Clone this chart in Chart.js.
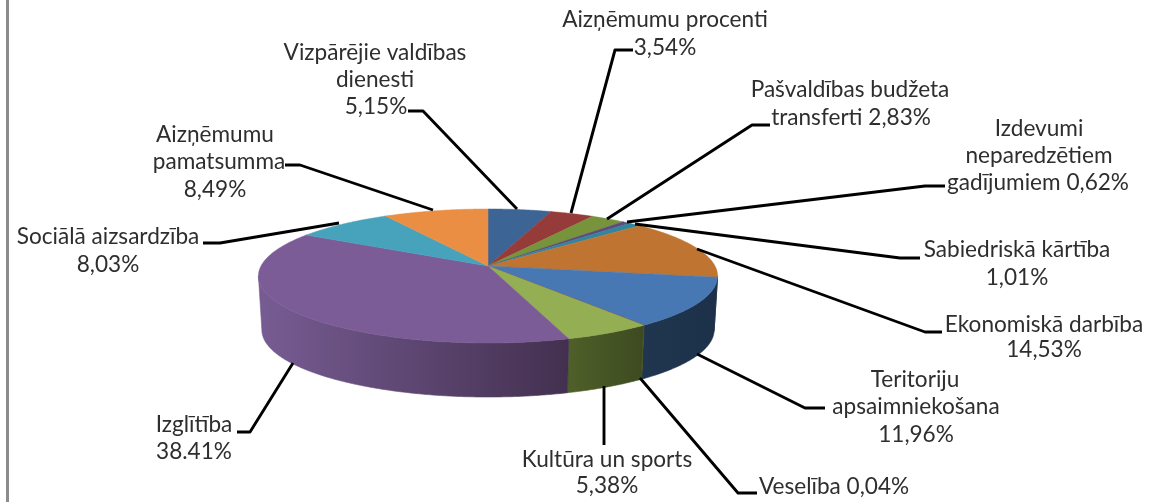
<!DOCTYPE html>
<html>
<head>
<meta charset="utf-8">
<style>
html,body{margin:0;padding:0;background:#fff;overflow:hidden}
canvas{display:block;filter:blur(0.45px)}
</style>
<script src="https://cdn.jsdelivr.net/npm/chart.js@4/dist/chart.umd.min.js"></script>
</head>
<body>
<canvas id="c" width="1154" height="503"></canvas>
<script>
const categories = ["Vizpārējie valdības dienesti","Aizņēmumu procenti","Pašvaldības budžeta transferti","Izdevumi neparedzētiem gadījumiem","Sabiedriskā kārtība","Ekonomiskā darbība","Teritoriju apsaimniekošana","Veselība","Kultūra un sports","Izglītība","Sociālā aizsardzība","Aizņēmumu pamatsumma"];
const shares = [5.15,3.54,2.83,0.62,1.01,14.53,11.96,0.04,5.38,38.41,8.03,8.49];
const topColors = ["#3c6595","#953c3a","#77933c","#60497c","#31859c","#bf7431","#4878b3","#943c3a","#93ae53","#7b5c96","#46a3bb","#ea8e44"];
const sideColors = [["#2c4a6e","#2c4a6e"],["#6e2c2b","#6e2c2b"],["#586d2c","#586d2c"],["#47365c","#47365c"],["#246273","#246273"],["#1f3550","#1f3550"],["#20364f","#1c3049"],["#4a5a26","#4a5a26"],["#4f6029","#3d4a20"],["#775c93","#43304f"],["#347989","#347989"],["#ad6932","#ad6932"]];
const labelLines = [
 [["Vizpārējie valdības",375,53],["dienesti",375,80],["5,15%",376,107]],
 [["Aizņēmumu procenti",665,20],["3,54%",665,48]],
 [["Pašvaldības budžeta",850,90],["transferti 2,83%",851,118]],
 [["Izdevumi",1039,129],["neparedzētiem",1039,156],["gadījumiem 0,62%",1038,183]],
 [["Sabiedriskā kārtība",1017,250],["1,01%",1017,278]],
 [["Ekonomiskā darbība",1044,325],["14,53%",1044,350]],
 [["Teritoriju",915,380],["apsaimniekošana",916,407],["11,96%",916,435]],
 [["Veselība 0,04%",834,487]],
 [["Kultūra un sports",607,460],["5,38%",607,486]],
 [["Izglītība",194,425],["38.41%",194,452]],
 [["Sociālā aizsardzība",108,237],["8,03%",108,265]],
 [["Aizņēmumu",215,135],["pamatsumma",219,162],["8,49%",215,190]]
];
const leaders = [
 [[408,111],[423,111],[517,209]],
 [[633,50],[615,50],[571,213]],
 [[770,125],[752,125],[607,219]],
 [[945,186],[925,186],[627,222]],
 [[920,258],[900,258],[635,224]],
 [[942,332],[925,332],[697,249]],
 [[825,408],[805,408],[697,354]],
 [[757,493],[738,493],[640,378]],
 [[604,445],[604,386]],
 [[237,432],[250,432],[293,363]],
 [[203,243],[220,243],[339,223]],
 [[285,165],[300,165],[433,210]]
];

// perspective projection of the pie's unit circle: apex sits above the ellipse centre
const P = {cx:488, cy:266, ax:227, ay:25.8, k:0.1493, depth:54, shrink:0.985};
function topPoint(a){
  const u=Math.cos(a), v=Math.sin(a), d=1-P.k*v;
  return [P.cx+P.ax*u/d, (P.cy+P.ay*v)/d];
}
function bottomPoint(a){
  const p=topPoint(a);
  return [P.cx+(p[0]-P.cx)*P.shrink, p[1]+P.depth];
}
const visA0=Math.asin(P.k), visA1=Math.PI-visA0;
const STEP=Math.PI/360;

const pie3d = {
  id:'pie3d',
  beforeDatasetDraw(chart,args){
    const ctx=chart.ctx, arcs=args.meta.data;
    ctx.save();
    // side wall
    arcs.forEach((arc,i)=>{
      const s=Math.max(arc.startAngle,visA0), e=Math.min(arc.endAngle,visA1);
      if(e<=s) return;
      const pts=[], back=[];
      for(let a=s;a<e;a+=STEP){pts.push(topPoint(a));back.push(bottomPoint(a));}
      pts.push(topPoint(e));back.push(bottomPoint(e));
      const xs=pts.concat(back).map(p=>p[0]);
      const g=ctx.createLinearGradient(Math.min(...xs),0,Math.max(...xs),0);
      const [left,right]=sideColors[i];
      g.addColorStop(0,left); g.addColorStop(1,right);
      ctx.beginPath();
      pts.forEach((p,j)=>j?ctx.lineTo(p[0],p[1]):ctx.moveTo(p[0],p[1]));
      back.reverse().forEach(p=>ctx.lineTo(p[0],p[1]));
      ctx.closePath();
      ctx.fillStyle=g; ctx.strokeStyle=g; ctx.lineWidth=0.6;
      ctx.fill(); ctx.stroke();
    });
    // top face
    arcs.forEach(arc=>{
      ctx.beginPath();
      ctx.moveTo(P.cx,P.cy);
      for(let a=arc.startAngle;a<arc.endAngle;a+=STEP){const p=topPoint(a);ctx.lineTo(p[0],p[1]);}
      const p=topPoint(arc.endAngle);ctx.lineTo(p[0],p[1]);
      ctx.closePath();
      ctx.fillStyle=arc.options.backgroundColor;
      ctx.strokeStyle=arc.options.backgroundColor;
      ctx.lineWidth=0.5;
      ctx.fill(); ctx.stroke();
    });
    // leader lines
    ctx.strokeStyle='#000'; ctx.lineWidth=2.9; ctx.lineJoin='round';
    leaders.forEach(l=>{
      ctx.beginPath();
      l.forEach((p,j)=>j?ctx.lineTo(p[0],p[1]):ctx.moveTo(p[0],p[1]));
      ctx.stroke();
    });
    // labels
    ctx.fillStyle='#2e2e2e';
    ctx.font='22.6px Lato';
    ctx.textAlign='center'; ctx.textBaseline='middle';
    labelLines.forEach(lines=>lines.forEach(([t,x,y])=>ctx.fillText(t,x,y)));
    // frame edge
    ctx.fillStyle='#8c8c8c';
    ctx.fillRect(6,0,3,502);
    ctx.restore();
    return false;
  }
};

new Chart(document.getElementById('c'),{
  type:'pie',
  data:{labels:categories,datasets:[{data:shares,backgroundColor:topColors,borderWidth:0}]},
  options:{
    responsive:false,animation:false,
    plugins:{legend:{display:false},tooltip:{enabled:false}}
  },
  plugins:[pie3d]
});
</script>
</body>
</html>
